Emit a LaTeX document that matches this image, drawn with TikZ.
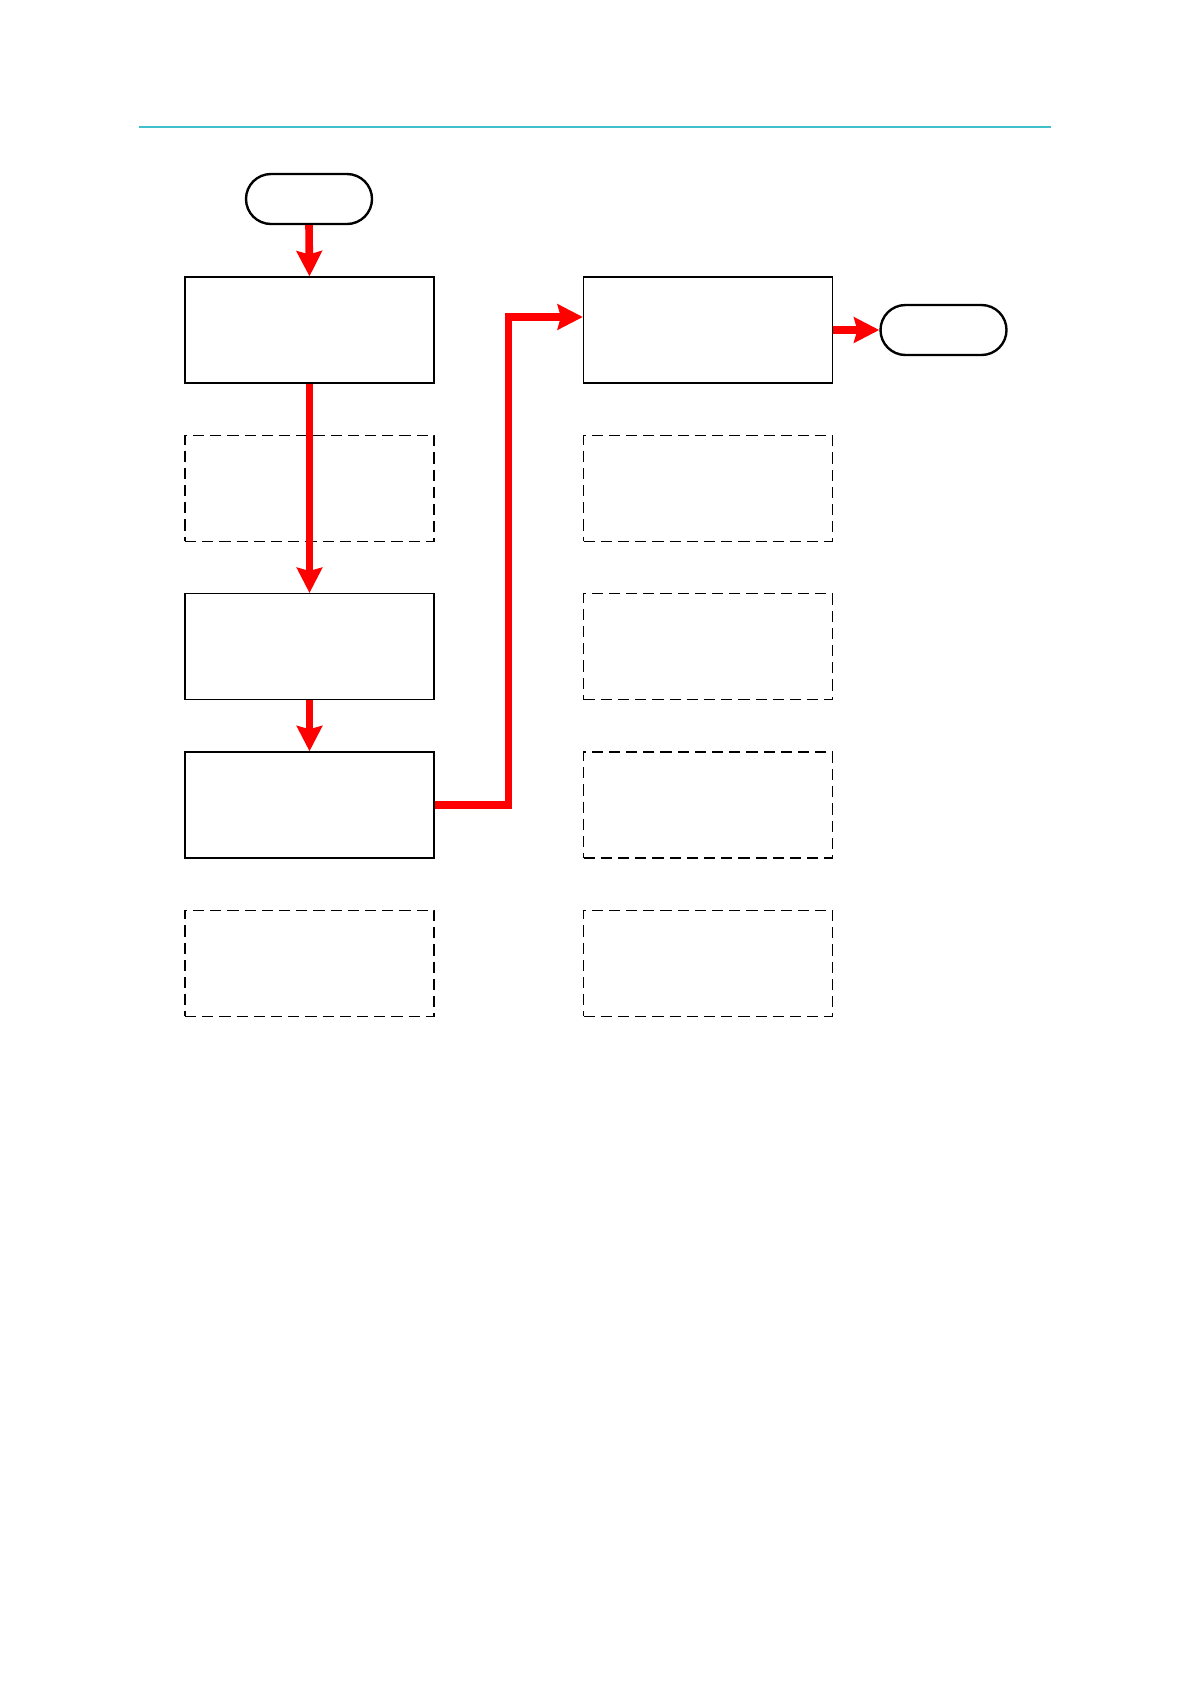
\documentclass[tikz,border=0pt]{standalone}
\usepackage{tikz}
\usetikzlibrary{arrows.meta,positioning,calc,shapes.misc}
\definecolor{cRule}{HTML}{3FC0CA}
\definecolor{cFlow}{HTML}{FF0000}
\tikzset{
  stepbox/.style ={draw=black,fill=white,line width=0.9pt,minimum width=62.25mm,
                   minimum height=26.5mm,inner sep=0pt},
  spare/.style   ={stepbox,dash pattern=on 2.8mm off 1.5mm},
  term/.style    ={draw=black,fill=white,rounded rectangle,line width=1.7pt,
                   minimum width=31.5mm,minimum height=12.5mm,inner sep=0pt},
  flow/.style    ={-{Stealth[length=6.3mm,width=6.3mm,inset=0.8mm]},draw=cFlow,
                   line width=5.4pt},
}
\begin{document}
\begin{tikzpicture}[x=0.25mm, y=-0.25mm]
\useasboundingbox (0,0) rectangle (1191,1684);

\def\dy{158.3}
\def\xl{309.5}   % left column
\def\xr{708}     % right column

% ===== header rule ======================================================
\draw[cRule,line width=1.5pt] (138.5,126.7) -- (1051,126.7);

% ===== step boxes, two columns ==========================================
\foreach [count=\i] \s in {stepbox,spare,stepbox,stepbox,spare}{%
    \pgfmathsetmacro\y{330+(\i-1)*\dy}
    \node[\s] (l\i) at (\xl,\y) {};
  }
\foreach [count=\i] \s in {stepbox,spare,spare,spare,spare}{%
    \pgfmathsetmacro\y{330+(\i-1)*\dy}
    \node[\s] (r\i) at (\xr,\y) {};
  }

% ===== terminals ========================================================
\node[term] (start) at (309,199) {};
\node[term] (stop)  at (943.5,330) {};

% ===== flow =============================================================
\draw[flow] (start.south) -- (l1.north);
\draw[flow] (l1.south) -- (l3.north);
\draw[flow] (l3.south) -- (l4.north);
\coordinate (r1in) at ($(r1.west)+(0,-13)$);
\draw[flow] (l4.east) -- ++(74,0) |- (r1in);
\draw[flow] (r1.east) -- (stop.west);
\end{tikzpicture}
\end{document}
